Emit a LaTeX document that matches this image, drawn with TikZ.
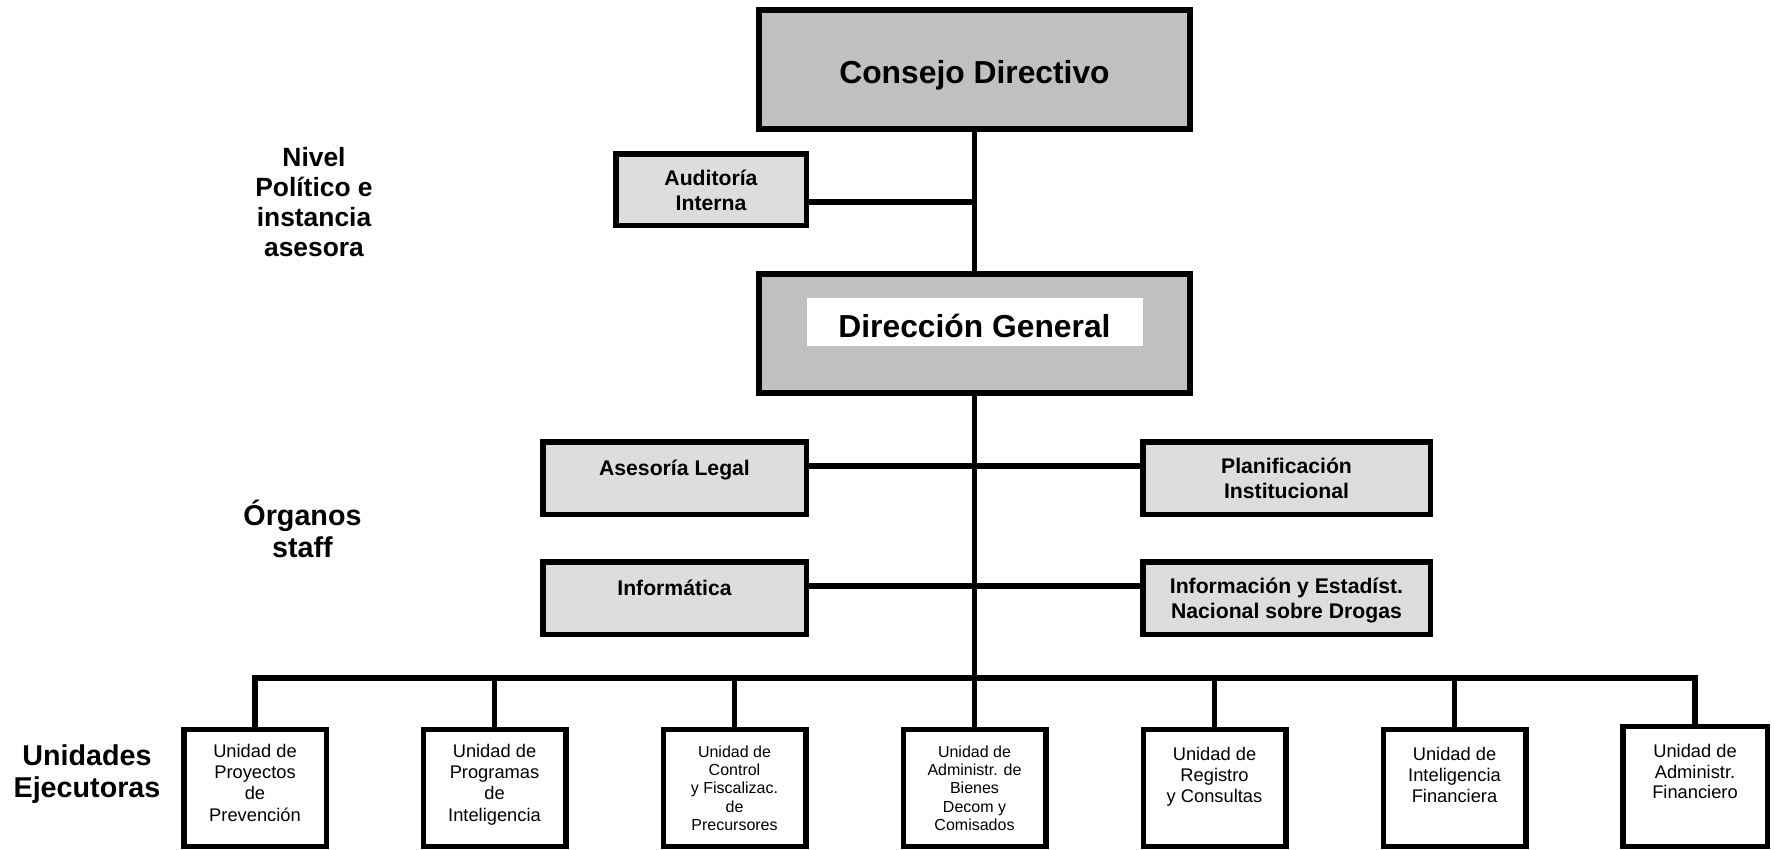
\documentclass[tikz,border=0pt]{standalone}
\usepackage{fontspec}
\setmainfont{Liberation Sans}
\usetikzlibrary{calc}
\definecolor{darkbox}{HTML}{C0C0C0}
\definecolor{lightbox}{HTML}{DDDDDD}
\newcommand{\mystrut}{\rule{0pt}{1em}}
\tikzset{
  bigbox/.style={draw=black, line width=6pt, fill=darkbox, rectangle, minimum width=431pt, minimum height=119pt, inner sep=0pt},
  staffbox/.style={draw=black, line width=5.5pt, fill=lightbox, rectangle, inner sep=0pt},
  unitbox/.style={draw=black, line width=5.5pt, fill=white, rectangle, minimum width=142.5pt, minimum height=116.75pt, inner sep=0pt},
  conn/.style={line width=5.5pt, draw=black},
  txt/.style={align=center, inner sep=0pt, anchor=north},
  btxt/.style={inner sep=0pt, anchor=base},
  fbig/.style={font=\fontsize{31.8pt}{36pt}\selectfont\bfseries},
  fstaff/.style={font=\fontsize{21.2pt}{25pt}\selectfont\bfseries},
  flevel/.style={font=\fontsize{26.4pt}{30pt}\selectfont\bfseries},
  flevelb/.style={font=\fontsize{28.7pt}{32pt}\selectfont\bfseries},
  funit/.style={font=\fontsize{18.3pt}{21.3pt}\selectfont},
  funitb/.style={font=\fontsize{18.3pt}{20.5pt}\selectfont},
  funits/.style={font=\fontsize{16pt}{18.2pt}\selectfont},
}
\begin{document}
\begin{tikzpicture}[x=1pt,y=-1pt]
\useasboundingbox[fill=white] (0,0) rectangle (1775,849);

% main boxes
\node[bigbox] (cd) at (974.5,69.5) {};
\node[bigbox] (dg) at (974.5,333.5) {};
\node[fill=white, minimum width=336pt, minimum height=48pt, inner sep=0pt] (dgw) at (975,322) {};
\node[btxt, fbig] (cdt) at (974.5,83.3) {Consejo Directivo};
\node[btxt, fbig] (dgt) at (974.5,337) {Dirección General};

% staff boxes
\node[staffbox, minimum width=190.5pt, minimum height=71.5pt] (aud) at (711,189.5) {};
\node[staffbox, minimum width=263.5pt, minimum height=72.5pt] (ase) at (674.5,478) {};
\node[staffbox, minimum width=263.5pt, minimum height=72.5pt] (inf) at (674.5,598) {};
\node[staffbox, minimum width=287.5pt, minimum height=72.5pt] (pla) at (1286.5,478) {};
\node[staffbox, minimum width=287.5pt, minimum height=72.5pt] (ies) at (1286.5,598) {};

\node[txt, fstaff] (audt) at (711,163.8) {\mystrut Auditoría\\Interna};
\node[btxt, fstaff] (aset) at (674.5,475) {Asesoría Legal};
\node[btxt, fstaff] (inft) at (674.5,595) {Informática};
\node[txt, fstaff] (plat) at (1286.5,451.8) {\mystrut Planificación\\Institucional};
\node[txt, fstaff] (iest) at (1286.5,571.8) {\mystrut Información y Estadíst.\\Nacional sobre Drogas};

% junction coordinates
\coordinate (ja) at (974.5,202);
\coordinate (j1) at (974.5,466);
\coordinate (j2) at (974.5,586);
\coordinate (bar) at (974.5,678);

% unit boxes
\node[unitbox] (u1) at (255,788.1) {};
\node[unitbox] (u2) at (494.5,788.1) {};
\node[unitbox] (u3) at (734.5,788.1) {};
\node[unitbox] (u4) at (974.5,788.1) {};
\node[unitbox] (u5) at (1214.5,788.1) {};
\node[unitbox] (u6) at (1454.5,788.1) {};
\node[unitbox, minimum width=144.5pt, minimum height=119.75pt] (u7) at (1695,786.6) {};

% connectors
\draw[conn] (cd.south) -- (dg.north);
\draw[conn] (aud.east |- ja) -- (ja);
\draw[conn] (dg.south) -- (bar);
\draw[conn] (ase.east |- j1) -- (pla.west |- j1);
\draw[conn] (inf.east |- j2) -- (ies.west |- j2);
\draw[conn] (u1.north) -- (u1.north |- bar) -- (u7.north |- bar) -- (u7.north);
\draw[conn] (u2.north |- bar) -- (u2.north);
\draw[conn] (u3.north |- bar) -- (u3.north);
\draw[conn] (bar) -- (u4.north);
\draw[conn] (u5.north |- bar) -- (u5.north);
\draw[conn] (u6.north |- bar) -- (u6.north);

% unit texts
\node[txt, funit] (u1t) at (255,738.7) {\mystrut Unidad de\\Proyectos\\de\\Prevención};
\node[txt, funit] (u2t) at (494.5,738.7) {\mystrut Unidad de\\Programas\\de\\Inteligencia};
\node[txt, funits] (u3t) at (734.5,741.3) {\mystrut Unidad de\\Control\\y Fiscalizac.\\de\\Precursores};
\node[txt, funits] (u4t) at (974.5,741.3) {\mystrut Unidad de\\Administr. de\\Bienes\\Decom y\\Comisados};
\node[txt, funit] (u5t) at (1214.5,741.7) {\mystrut Unidad de\\Registro\\y Consultas};
\node[txt, funit] (u6t) at (1454.5,741.7) {\mystrut Unidad de\\Inteligencia\\Financiera};
\node[txt, funitb] (u7t) at (1695,739) {\mystrut Unidad de\\Administr.\\Financiero};

% level labels
\node[txt, flevel] (lev1) at (314,139.6) {\mystrut Nivel\\Político e\\instancia\\asesora};
\node[txt, flevelb] (lev2) at (302.5,496.3) {\mystrut Órganos\\staff};
\node[txt, flevelb] (lev3) at (87,736.3) {\mystrut Unidades\\Ejecutoras};
\end{tikzpicture}
\end{document}
